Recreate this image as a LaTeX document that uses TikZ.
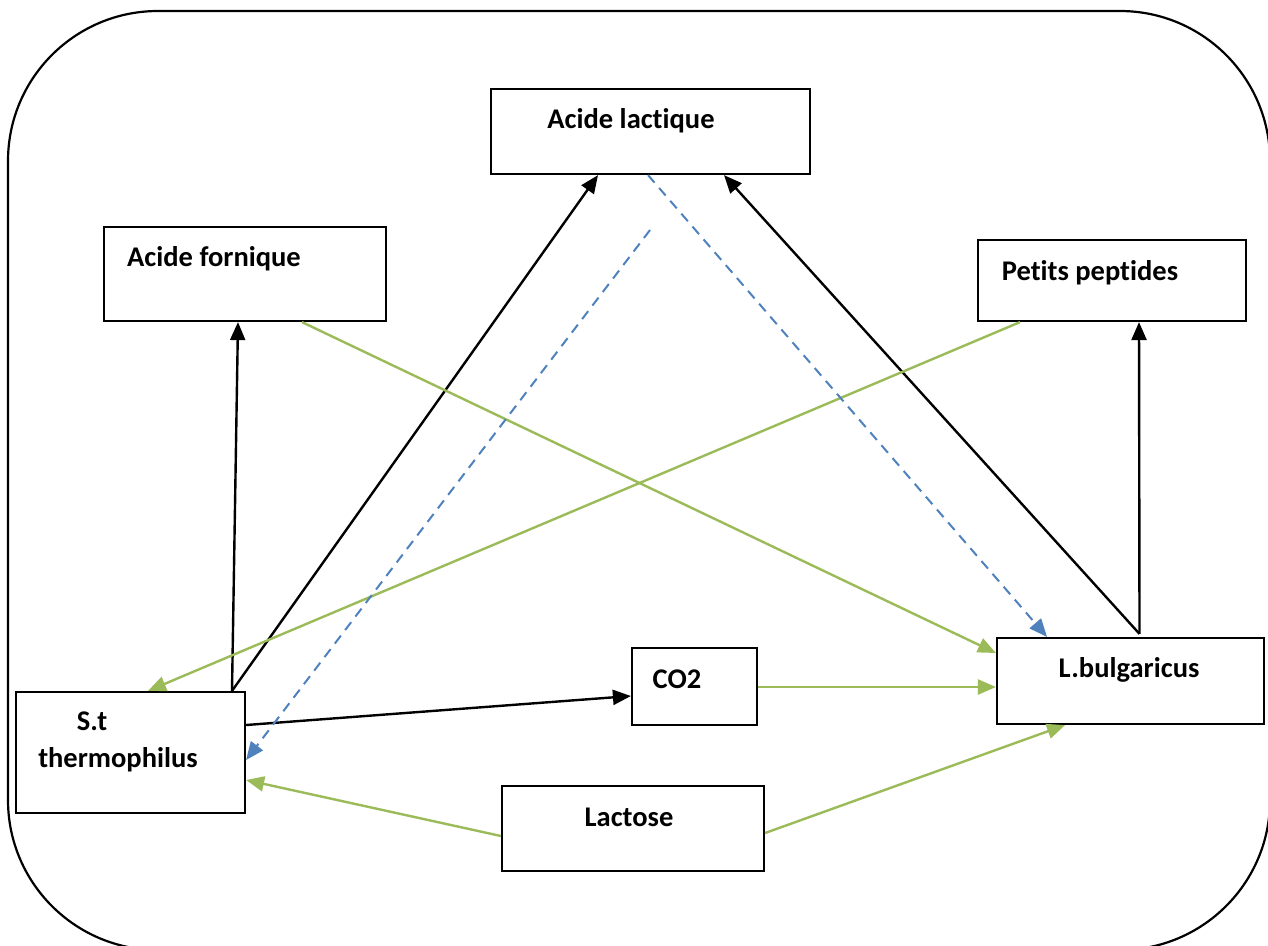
\documentclass[tikz,border=0pt]{standalone}
\usepackage{fontspec}
\setmainfont{Carlito}[Ligatures={NoCommon,NoContextual},RawFeature=-calt]
\usetikzlibrary{arrows.meta,calc}
\definecolor{lgreen}{HTML}{9BBB59}
\definecolor{lblue}{HTML}{4F81BD}
\begin{document}
\begin{tikzpicture}[x=1pt,y=-1pt,
  box/.style={draw=black,line width=2.2pt,rectangle,inner sep=0pt,fill=white},
  lbl/.style={anchor=base,inner sep=0pt,font=\fontsize{28.5}{34}\selectfont\bfseries},
  blk/.style={draw=black,line width=2.4pt,-{Triangle[length=18pt,width=15pt]}},
  grn/.style={draw=lgreen,line width=2.4pt,-{Triangle[length=18pt,width=15pt]}},
  blu/.style={draw=lblue,line width=2pt,dash pattern=on 10pt off 7pt,-{Triangle[length=18pt,width=15pt]}}]
\useasboundingbox (0,0) rectangle (1268,945);
\clip (0,0) rectangle (1268,945);
\draw[line width=2.2pt,rounded corners=150pt] (8,11) rectangle (1270,950);
% boxes
\node[box,minimum width=319pt,minimum height=85pt] (al) at (650.5,131.5) {};
\node[box,minimum width=282pt,minimum height=94pt] (af) at (245,274) {};
\node[box,minimum width=268pt,minimum height=81pt] (pp) at (1112,280.5) {};
\node[box,minimum width=229pt,minimum height=121pt] (st) at (130.5,752.5) {};
\node[box,minimum width=125pt,minimum height=77pt] (co) at (694.5,686.5) {};
\node[box,minimum width=267pt,minimum height=86pt] (lb) at (1130.5,681) {};
\node[box,minimum width=262pt,minimum height=85pt] (la) at (633,828.5) {};
% labels
\node[lbl] (alt) at (631,128) {Acide lactique};
\node[lbl] (aft) at (214,266) {Acide fornique};
\node[lbl] (ppt) at (1090,280) {Petits peptides};
\node[lbl] (stt1) at (92,730) {S.t};
\node[lbl] (stt2) at (118,767) {thermophilus};
\node[lbl] (cot) at (677,688) {CO2};
\node[lbl] (lbt) at (1129,677) {L.bulgaricus};
\node[lbl] (lat) at (629,826) {Lactose};
% black connectors
\draw[blk] ($(st.north)+(101.5,0)$) -- ($(af.south)+(-7,0)$);
\draw[blk] ($(st.north)+(101.5,0)$) -- ($(al.south)+(-52.5,0)$);
\draw[blk] ($(st.east)+(0,-27.5)$) -- ($(co.west)+(0,9.5)$);
\draw[blk] ($(lb.north)+(9,-3)$) -- ($(al.south)+(73.5,0)$);
\draw[blk] ($(lb.north)+(9,-3)$) -- ($(pp.south)+(27,0)$);
% green connectors
\draw[grn] ($(af.south)+(57,0)$) -- ($(lb.west)+(0,-28)$);
\draw[grn] ($(pp.south)+(-92,0)$) -- ($(st.north)+(17.5,0)$);
\draw[grn] ($(co.east)+(0,0.5)$) -- ($(lb.west)+(0,6)$);
\draw[grn] ($(la.west)+(0,7.5)$) -- ($(st.east)+(0,27.5)$);
\draw[grn] ($(la.east)+(0,4.5)$) -- ($(lb.south)+(-65.5,0)$);
% blue dashed connectors
\coordinate (ds) at (650,230);
\draw[blu] ($(al.south)+(-2.5,0)$) -- ($(lb.north)+(-83.5,0)$);
\draw[blu] (ds) -- ($(st.east)+(0,7.5)$);
\end{tikzpicture}
\end{document}
